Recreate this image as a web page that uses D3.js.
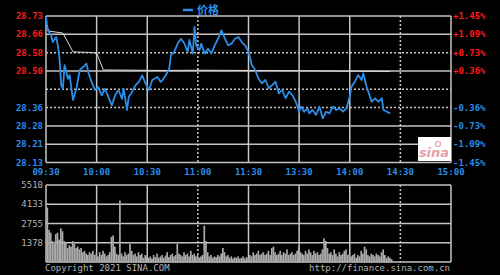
<!DOCTYPE html>
<html>
<head>
<meta charset="utf-8">
<script src="https://cdn.jsdelivr.net/npm/d3@7"></script>
<style>
  html, body { margin: 0; padding: 0; background: #000; }
  svg { display: block; }
  text { font-family: "DejaVu Sans Mono", monospace; font-size: 9px; }
</style>
</head>
<body>
<div id="chart"></div>
<script>
// tick labels
var timeLabels = ["09:30", "10:00", "10:30", "11:00", "11:30", "13:30", "14:00", "14:30", "15:00"];
var priceTicks = [28.73, 28.655, 28.58, 28.505, 28.43, 28.355, 28.28, 28.205, 28.13];
var priceLabels = ["28.73", "28.66", "28.58", "28.50", "", "28.36", "28.28", "28.21", "28.13"];
var pctLabels = ["+1.45%", "+1.09%", "+0.73%", "+0.36%", "", "-0.36%", "-0.73%", "-1.09%", "-1.45%"];
var volTicks = [1378, 2755, 4133, 5510];

// price line
var times = ["09:30","09:31","09:33","09:34","09:36","09:37","09:38","09:39","09:40","09:41",
  "09:43","09:44","09:46","09:48","09:50","09:52","09:54","09:55","09:57","09:59",
  "10:01","10:03","10:05","10:07","10:09","10:11","10:13","10:15","10:16","10:18",
  "10:19","10:21","10:23","10:25","10:27","10:29","10:31","10:33","10:36","10:38",
  "10:39","10:41","10:43","10:44","10:46","10:48","10:50","10:52","10:54","10:55",
  "10:57","10:58","10:59","11:01","11:02","11:04","11:06","11:08","11:10","11:12",
  "11:14","11:16","11:18","11:20","11:22","11:24","11:26","11:28","11:30","13:02",
  "13:04","13:06","13:08","13:10","13:12","13:14","13:16","13:18","13:20","13:22",
  "13:24","13:26","13:28","13:30","13:31","13:33","13:35","13:36","13:38","13:40",
  "13:42","13:44","13:46","13:48","13:50","13:52","13:54","13:56","13:58","14:00",
  "14:01","14:03","14:05","14:07","14:08","14:10","14:11","14:13","14:15","14:17",
  "14:19","14:20","14:22","14:24"];
var prices = [28.726,28.673,28.652,28.623,28.644,28.611,28.555,28.447,28.432,28.529,
  28.473,28.488,28.386,28.432,28.509,28.521,28.535,28.501,28.460,28.427,
  28.439,28.405,28.432,28.398,28.364,28.406,28.427,28.391,28.432,28.345,
  28.398,28.419,28.446,28.460,28.487,28.453,28.427,28.468,28.480,28.460,
  28.468,28.487,28.514,28.569,28.583,28.617,28.637,28.617,28.583,28.632,
  28.576,28.685,28.610,28.590,28.617,28.576,28.596,28.576,28.610,28.637,
  28.671,28.637,28.610,28.617,28.637,28.644,28.623,28.610,28.583,28.528,
  28.509,28.472,28.454,28.468,28.434,28.447,28.461,28.413,28.427,28.393,
  28.420,28.406,28.379,28.338,28.359,28.338,28.352,28.331,28.345,28.325,
  28.359,28.311,28.338,28.331,28.359,28.345,28.352,28.338,28.352,28.400,
  28.440,28.461,28.488,28.468,28.495,28.440,28.420,28.379,28.393,28.379,
  28.393,28.345,28.338,28.331];

// average price line
var avgTimes = ["09:30","09:32","09:40","09:46","09:55","10:00","10:04","10:40","11:00","11:30","13:30","14:00","14:24"];
var avgPrices = [28.690,28.668,28.660,28.583,28.581,28.578,28.509,28.507,28.508,28.507,28.506,28.504,28.503];

// volume per minute from 09:30
var volumes = [3900,2300,2100,1500,1300,2000,2100,1600,2400,2200,
  1500,1400,1000,1200,1100,1500,1300,1000,1100,900,
  1000,700,800,600,500,700,600,800,500,600,
  400,700,500,800,600,400,500,700,1800,1900,
  1100,600,500,4400,600,400,700,500,600,1300,
  800,500,600,400,700,500,600,300,500,400,
  300,400,250,500,350,600,300,400,500,300,
  450,700,350,500,600,400,500,1300,600,500,
  400,700,500,600,400,800,500,600,400,500,
  300,400,500,2600,1500,700,400,500,300,400,
  350,500,400,600,1000,700,400,500,300,400,
  250,350,300,400,250,300,400,250,350,300,
  500,400,700,500,600,800,500,600,700,500,
  600,800,500,1000,1100,700,500,600,800,500,
  700,600,900,500,600,700,500,600,800,1100,
  700,600,500,800,600,900,700,500,800,600,
  700,500,600,900,1700,1500,1000,600,700,500,
  900,600,400,700,500,600,800,900,500,600,
  400,500,600,300,500,400,800,600,1100,900,
  500,400,600,500,400,600,500,400,700,900,
  500,300,400,300,200];

function minuteIndex(t) {
  var hm = t.split(":"), m = +hm[0] * 60 + +hm[1];
  return m <= 690 ? m - 570 : m - 780 + 120;
}

var W = 500, H = 275;
var left = 46, right = 451;
var pTop = 16, pBot = 162.5, vTop = 185, vBot = 262;
var gridColor = "#c4c4c4";
var blue = "#2b8ee8", red = "#ff1a1a", grey = "#b4b4b4";

var svg = d3.select("#chart").append("svg")
  .attr("width", W).attr("height", H);
svg.append("rect").attr("width", W).attr("height", H).attr("fill", "#000");

var x = d3.scaleLinear().domain([0, 240]).range([left, right]);
var y = d3.scaleLinear().domain([28.13, 28.73]).range([pBot, pTop]);
var yv = d3.scaleLinear().domain([0, 5510]).range([vBot, vTop]);
var gridIdx = d3.range(9).map(function(i) { return i * 30; });

// price panel grid
svg.append("g").selectAll("line").data(priceTicks).enter().append("line")
  .attr("x1", left).attr("x2", right)
  .attr("y1", function(d) { return y(d); }).attr("y2", function(d) { return y(d); })
  .attr("stroke", gridColor).attr("stroke-width", 1.5)
  .attr("stroke-dasharray", function(d, i) { return (i == 2 || i == 4 || i == 5) ? "2,2" : null; });
svg.append("g").selectAll("line").data(gridIdx).enter().append("line")
  .attr("x1", function(d) { return x(d); }).attr("x2", function(d) { return x(d); })
  .attr("y1", pTop).attr("y2", pBot)
  .attr("stroke", gridColor).attr("stroke-width", 1.5)
  .attr("stroke-dasharray", function(d, i) { return (i == 3 || i == 7) ? "2,2" : null; });

// volume panel grid
svg.append("g").selectAll("line").data([0].concat(volTicks)).enter().append("line")
  .attr("x1", left).attr("x2", right)
  .attr("y1", function(d) { return yv(d); }).attr("y2", function(d) { return yv(d); })
  .attr("stroke", gridColor).attr("stroke-width", 1.5);
svg.append("g").selectAll("line").data(gridIdx).enter().append("line")
  .attr("x1", function(d) { return x(d); }).attr("x2", function(d) { return x(d); })
  .attr("y1", vTop).attr("y2", vBot)
  .attr("stroke", gridColor).attr("stroke-width", 1.5)
  .attr("stroke-dasharray", function(d, i) { return (i == 3 || i == 7) ? "2,2" : null; });

// volume bars
var bw = x(1) - x(0);
svg.append("g").selectAll("rect").data(volumes).enter().append("rect")
  .attr("x", function(d, i) { return x(i) + 0.5; })
  .attr("width", bw)
  .attr("y", function(d) { return yv(d); })
  .attr("height", function(d) { return vBot - yv(d); })
  .attr("fill", "#ababab");

// average line
var avgData = avgTimes.map(function(t, i) { return [minuteIndex(t), avgPrices[i]]; });
svg.append("path").datum(avgData)
  .attr("d", d3.line().x(function(d) { return x(d[0]); }).y(function(d) { return y(d[1]); }))
  .attr("fill", "none").attr("stroke", "#dcdcdc").attr("stroke-width", 1);

// price line
var priceData = times.map(function(t, i) { return [minuteIndex(t), prices[i]]; });
svg.append("path").datum(priceData)
  .attr("d", d3.line().x(function(d) { return x(d[0]); }).y(function(d) { return y(d[1]); }))
  .attr("fill", "none").attr("stroke", blue).attr("stroke-width", 1.8)
  .attr("stroke-linejoin", "round");

// left price labels
svg.append("g").selectAll("text").data(priceTicks).enter().append("text")
  .attr("x", 43).attr("y", function(d) { return y(d) + 3; })
  .attr("text-anchor", "end").attr("font-weight", "bold")
  .attr("fill", function(d, i) { return i < 4 ? red : blue; })
  .text(function(d, i) { return priceLabels[i]; });

// right percent labels
svg.append("g").selectAll("text").data(priceTicks).enter().append("text")
  .attr("x", 453).attr("y", function(d) { return y(d) + 3; })
  .attr("font-weight", "bold")
  .attr("fill", function(d, i) { return i < 4 ? red : blue; })
  .text(function(d, i) { return pctLabels[i]; });

// time labels
svg.append("g").selectAll("text").data(gridIdx).enter().append("text")
  .attr("x", function(d) { return x(d); }).attr("y", 175)
  .attr("text-anchor", "middle").attr("font-weight", "bold").attr("fill", blue)
  .text(function(d, i) { return timeLabels[i]; });

// volume labels
svg.append("g").selectAll("text").data(volTicks).enter().append("text")
  .attr("x", 43).attr("y", function(d) { return yv(d) + 3; })
  .attr("text-anchor", "end").attr("fill", grey)
  .text(function(d) { return d; });

// footer
svg.append("text").attr("x", 45).attr("y", 271).attr("fill", grey)
  .text("Copyright 2021 SINA.COM");
svg.append("text").attr("x", 450).attr("y", 271).attr("text-anchor", "end").attr("fill", grey)
  .text("http://finance.sina.com.cn");

// legend
svg.append("line").attr("x1", 183).attr("x2", 193).attr("y1", 10).attr("y2", 10)
  .attr("stroke", blue).attr("stroke-width", 2.5);
svg.append("text").attr("x", 197).attr("y", 14).attr("fill", blue)
  .style("font-family", "'Noto Sans CJK SC', sans-serif").style("font-size", "11px")
  .attr("font-weight", "bold").text("价格");

// sina logo
svg.append("rect").attr("x", 418).attr("y", 137).attr("width", 33).attr("height", 24).attr("fill", "#fff");
svg.append("text").attr("x", 434).attr("y", 157).attr("text-anchor", "middle")
  .style("font-family", "'DejaVu Sans', sans-serif").style("font-size", "13px")
  .attr("font-style", "italic").attr("font-weight", "bold").attr("fill", "#e8a0a8")
  .text("sina");
svg.append("circle").attr("cx", 438).attr("cy", 144).attr("r", 2.5)
  .attr("fill", "none").attr("stroke", "#e8a0a8").attr("stroke-width", 1.2);
</script>
</body>
</html>
